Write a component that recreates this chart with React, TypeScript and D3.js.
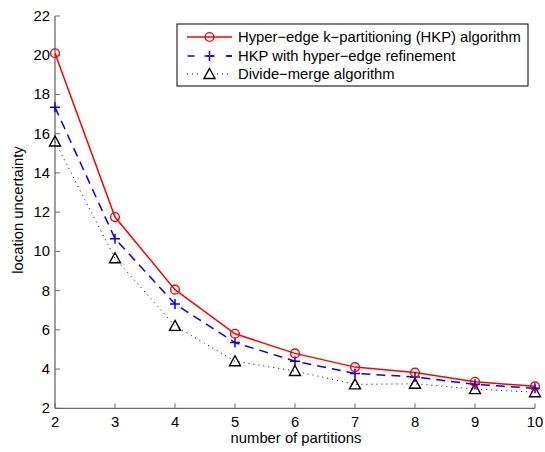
import React from "react";
import * as d3 from "d3";

const partitions = [2, 3, 4, 5, 6, 7, 8, 9, 10];
const hkp = [20.1, 11.75, 8.05, 5.8, 4.8, 4.1, 3.82, 3.35, 3.12];
const hkpRefine = [17.35, 10.65, 7.32, 5.35, 4.4, 3.78, 3.6, 3.22, 3.02];
const divideMerge = [15.6, 9.65, 6.2, 4.4, 3.9, 3.22, 3.25, 2.98, 2.82];
const xTicks = [2, 3, 4, 5, 6, 7, 8, 9, 10];
const yTicks = [2, 4, 6, 8, 10, 12, 14, 16, 18, 20, 22];
const legendLabels = [
  "Hyper\u2212edge k\u2212partitioning (HKP) algorithm",
  "HKP with hyper\u2212edge refinement",
  "Divide\u2212merge algorithm",
];

const W = 545, H = 452;
const left = 55, right = 535, top = 16, bottom = 408.3;
const font = "'Liberation Sans', Arial, Helvetica, sans-serif";
const fs = 14.8;

export default function App() {
  const x = d3.scaleLinear().domain([2, 10]).range([left, right]);
  const y = d3.scaleLinear().domain([2, 22]).range([bottom, top]);
  const line = d3.line<number>().x((_, i) => x(partitions[i])).y((d) => y(d));
  const axisColor = "#6b6b6b";

  const tri = (cx: number, cy: number, k: string) => (
    <path key={k} d={`M${cx},${cy - 5.5} L${cx + 5.5},${cy + 4.5} L${cx - 5.5},${cy + 4.5} Z`} fill="none" stroke="black" strokeWidth={1.4} />
  );
  const plus = (cx: number, cy: number, k: string) => (
    <path key={k} d={`M${cx - 5},${cy} H${cx + 5} M${cx},${cy - 5} V${cy + 5}`} stroke="blue" strokeWidth={1.5} />
  );
  const circ = (cx: number, cy: number, k: string) => (
    <circle key={k} cx={cx} cy={cy} r={4.4} fill="none" stroke="red" strokeWidth={1.4} />
  );

  const lx = 177, ly = 24, lw = 351, lh = 62;
  const rows = [37, 56, 74];

  return (
    <svg width={W} height={H} style={{ position: "absolute", left: 0, top: 0 }} fontFamily={font}>
      <rect width={W} height={H} fill="white" />
      {/* axes */}
      <line x1={left} x2={right} y1={bottom} y2={bottom} stroke={axisColor} strokeWidth={1.3} />
      <line x1={left} x2={left} y1={top} y2={bottom} stroke={axisColor} strokeWidth={1.3} />
      {xTicks.map((t) => (
        <g key={"xt" + t}>
          <line x1={x(t)} x2={x(t)} y1={bottom} y2={bottom - 5} stroke={axisColor} strokeWidth={1} />
          <text x={x(t)} y={bottom + 19} textAnchor="middle" fontSize={fs} fill="black">{t}</text>
        </g>
      ))}
      {yTicks.map((t) => (
        <g key={"yt" + t}>
          <line x1={left} x2={left + 5} y1={y(t)} y2={y(t)} stroke={axisColor} strokeWidth={1} />
          <text x={left - 5} y={y(t) + 5} textAnchor="end" fontSize={fs} fill="black">{t}</text>
        </g>
      ))}
      <text x={296} y={443} textAnchor="middle" fontSize={fs}>number of partitions</text>
      <text transform={`translate(23,210) rotate(-90)`} textAnchor="middle" fontSize={fs}>location uncertainty</text>

      {/* series */}
      <path d={line(divideMerge) || ""} fill="none" stroke="black" strokeWidth={1} strokeDasharray="1,4" />
      <path d={line(hkpRefine) || ""} fill="none" stroke="blue" strokeWidth={1.5} strokeDasharray="9,6" />
      <path d={line(hkp) || ""} fill="none" stroke="red" strokeWidth={1.5} />
      {divideMerge.map((v, i) => tri(x(partitions[i]), y(v), "t" + i))}
      {hkpRefine.map((v, i) => plus(x(partitions[i]), y(v), "p" + i))}
      {hkp.map((v, i) => circ(x(partitions[i]), y(v), "c" + i))}

      {/* legend */}
      <rect x={lx} y={ly} width={lw} height={lh} fill="white" stroke="black" strokeWidth={1} />
      <line x1={187} x2={232} y1={rows[0]} y2={rows[0]} stroke="red" strokeWidth={1.5} />
      {circ(209.5, rows[0], "lc")}
      <line x1={187} x2={232} y1={rows[1]} y2={rows[1]} stroke="blue" strokeWidth={1.5} strokeDasharray="7,12.5" strokeDashoffset={-0.5} />
      <line x1={226} x2={232} y1={rows[1]} y2={rows[1]} stroke="blue" strokeWidth={1.5} />
      {plus(209.5, rows[1], "lp")}
      <line x1={187} x2={232} y1={rows[2]} y2={rows[2]} stroke="black" strokeWidth={1} strokeDasharray="1,4" />
      <rect x={202} y={rows[2] - 7} width={15} height={13} fill="white" />
      {tri(209.5, rows[2], "lt")}
      {legendLabels.map((l, i) => (
        <text key={l} x={238} y={rows[i] + 5} fontSize={fs}>{l}</text>
      ))}
    </svg>
  );
}
